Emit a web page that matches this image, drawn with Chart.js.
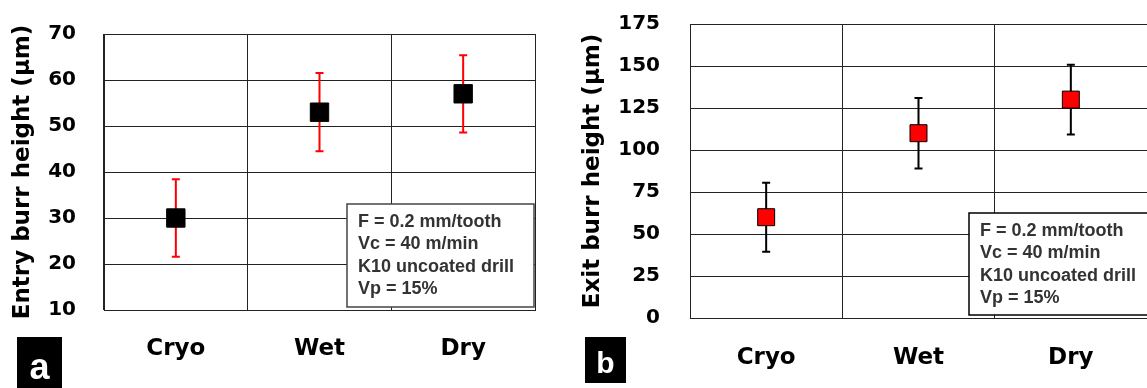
<!DOCTYPE html>
<html>
<head>
<meta charset="utf-8">
<script src="https://cdn.jsdelivr.net/npm/chart.js@4"></script>
<style>
  html, body { margin: 0; padding: 0; background: #fff; overflow: hidden; width: 1147px; height: 388px; }
  canvas { position: absolute; top: 0; }
  #entryChart { left: 0; }
  #exitChart { left: 560px; }
</style>
</head>
<body>
<canvas id="entryChart" width="560" height="388"></canvas>
<canvas id="exitChart" width="600" height="388"></canvas>
<script>
// data
const categories = ["Cryo", "Wet", "Dry"];
const entryMean = [30, 53, 57];
const entryErr = [8.4, 8.5, 8.4];
const exitMean = [60, 110, 130];
const exitErr = [20.5, 21, 20.7];
const entryTicks = [10, 20, 30, 40, 50, 60, 70];
const exitTicks = [0, 25, 50, 75, 100, 125, 150, 175];
const notes = ["F = 0.2 mm/tooth", "Vc = 40 m/min", "K10 uncoated drill", "Vp = 15%"];

document.addEventListener("DOMContentLoaded", function () {
  const tickFont = { family: "DejaVu Sans", size: 20, weight: "bold" };
  const catFont = { family: "DejaVu Sans", size: 23, weight: "bold" };

  // error bars drawn under the markers
  const errorBars = {
    id: "errorBars",
    beforeDatasetsDraw(chart, args, opts) {
      const ctx = chart.ctx;
      const x = chart.scales.x, y = chart.scales.y;
      ctx.save();
      ctx.strokeStyle = opts.color;
      ctx.lineWidth = 2;
      opts.mean.forEach((m, i) => {
        const px = x.getPixelForValue(i);
        const top = y.getPixelForValue(m + opts.err[i]);
        const bot = y.getPixelForValue(m - opts.err[i]);
        ctx.beginPath();
        ctx.moveTo(px, top); ctx.lineTo(px, bot);
        ctx.moveTo(px - 4, top); ctx.lineTo(px + 4, top);
        ctx.moveTo(px - 4, bot); ctx.lineTo(px + 4, bot);
        ctx.stroke();
      });
      ctx.restore();
    }
  };

  // condition box + panel letter
  const noteBox = {
    id: "noteBox",
    afterDatasetsDraw(chart, args, opts) {
      const ctx = chart.ctx;
      const b = opts.box;
      ctx.save();
      ctx.fillStyle = "#fff";
      ctx.fillRect(b.x, b.y, b.w, b.h);
      ctx.strokeStyle = opts.border;
      ctx.lineWidth = 1.5;
      ctx.strokeRect(b.x, b.y, b.w, b.h);
      ctx.fillStyle = "#333";
      ctx.font = "bold 18px 'Liberation Sans', Arial, sans-serif";
      ctx.textBaseline = "middle";
      notes.forEach((t, i) => ctx.fillText(t, b.x + 11, b.y + 18 + i * 22.5));
      const l = opts.letter;
      ctx.fillStyle = "#000";
      ctx.fillRect(l.x, l.y, l.w, l.h);
      ctx.fillStyle = "#fff";
      ctx.font = "bold " + l.size + "px 'Liberation Sans', Arial, sans-serif";
      ctx.textAlign = "center";
      ctx.textBaseline = "alphabetic";
      ctx.fillText(l.text, l.x + l.w / 2, l.base);
      ctx.restore();
    }
  };

  function makeChart(el, cfg) {
    return new Chart(el, {
      type: "line",
      data: {
        labels: categories,
        datasets: [
          {
            data: cfg.mean,
            showLine: false,
            pointStyle: "rect",
            pointRadius: cfg.radius,
            pointHoverRadius: cfg.radius,
            pointBackgroundColor: cfg.fill,
            pointBorderColor: "#000",
            pointBorderWidth: 1,
          },
        ],
      },
      options: {
        responsive: false,
        animation: false,
        events: [],
        layout: { padding: cfg.padding },
        plugins: {
          legend: { display: false },
          tooltip: { enabled: false },
          errorBars: { mean: cfg.mean, err: cfg.err, color: cfg.errColor },
          noteBox: { box: cfg.box, border: cfg.boxBorder, letter: cfg.letter },
        },
        scales: {
          x: {
            type: "category",
            offset: true,
            grid: { offset: true, color: "#222", lineWidth: 1, drawTicks: true, tickLength: cfg.xPad, tickColor: "rgba(0,0,0,0)" },
            border: { color: "#222", width: 1 },
            ticks: { color: "#000", font: catFont, padding: 0 },
            afterFit: (s) => { s.height = cfg.xHeight; },
          },
          y: {
            min: cfg.ticks[0],
            max: cfg.ticks[cfg.ticks.length - 1],
            afterBuildTicks: (s) => { s.ticks = cfg.ticks.map((v) => ({ value: v })); },
            grid: { color: "#222", lineWidth: 1, drawTicks: true, tickLength: cfg.yPad, tickColor: "rgba(0,0,0,0)" },
            border: { color: "#222", width: 1 },
            ticks: { color: "#000", font: tickFont, padding: 0 },
            title: {
              display: true,
              text: cfg.title,
              color: "#000",
              font: { family: "DejaVu Sans", size: 23, weight: "bold" },
              padding: { top: cfg.titlePad, bottom: 0 },
            },
            afterFit: (s) => { s.width = cfg.yWidth; },
          },
        },
      },
      plugins: [errorBars, noteBox],
    });
  }

  makeChart(document.getElementById("entryChart"), {
    mean: entryMean, err: entryErr, ticks: entryTicks,
    title: "Entry burr height (μm)",
    radius: 13, fill: "#000", errColor: "#ff0000",
    padding: { top: 34, right: 25, left: 0, bottom: 0 },
    yWidth: 104, xHeight: 78, yPad: 28, xPad: 25, titlePad: 9,
    box: { x: 347, y: 204, w: 187, h: 103 }, boxBorder: "#444",
    letter: { x: 17, y: 337, w: 45, h: 51, text: "a", size: 36, base: 379 },
  });

  makeChart(document.getElementById("exitChart"), {
    mean: exitMean, err: exitErr, ticks: exitTicks,
    title: "Exit burr height (μm)",
    radius: 12, fill: "#ff0000", errColor: "#000",
    padding: { top: 24, right: 2, left: 0, bottom: 0 },
    yWidth: 130, xHeight: 70, yPad: 30, xPad: 26, titlePad: 19,
    box: { x: 409, y: 213, w: 200, h: 102 }, boxBorder: "#000",
    letter: { x: 25, y: 337, w: 41, h: 46, text: "b", size: 30, base: 373 },
  });
});
</script>
</body>
</html>
